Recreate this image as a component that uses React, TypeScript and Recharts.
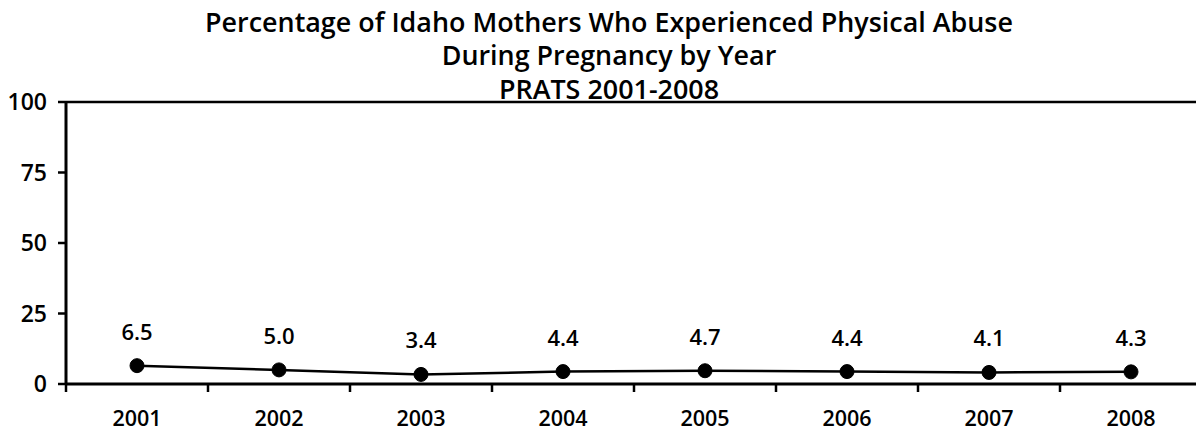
import React from 'react';
import { LineChart, Line, XAxis, YAxis, LabelList, ReferenceLine } from 'recharts';

const years = ['2001', '2002', '2003', '2004', '2005', '2006', '2007', '2008'];
const percentages = [6.5, 5.0, 3.4, 4.4, 4.7, 4.4, 4.1, 4.3];
const yTicks = [0, 25, 50, 75, 100];
const titleLines = [
  'Percentage of Idaho Mothers Who Experienced Physical Abuse',
  'During Pregnancy by Year',
  'PRATS 2001-2008',
];

const data = years.map((year, i) => ({ year, value: percentages[i] }));

const FONT = '"Open Sans", "DejaVu Sans", sans-serif';

const XTick = (props: any) => {
  const { x, y, payload } = props;
  const off = payload && typeof payload.offset === 'number' && payload.offset > 0 ? payload.offset : 71;
  return (
    <g>
      <line x1={x - off} x2={x - off} y1={y} y2={y + 8} stroke="#000" strokeWidth={2.5} />
      <text
        x={x}
        y={y + 27}
        dy="0.71em"
        textAnchor="middle"
        fill="#000"
        fontFamily={FONT}
        fontWeight={600}
        fontSize={21.5}
      >
        {payload.value}
      </text>
    </g>
  );
};

export default function App() {
  return (
    <div
      style={{
        position: 'absolute',
        left: 0,
        top: 0,
        width: 1196,
        height: 432,
        overflow: 'hidden',
        background: '#fff',
      }}
    >
      <LineChart
        width={1212}
        height={440}
        data={data}
        margin={{ top: 102, right: 10, bottom: 8, left: 0 }}
      >
        <ReferenceLine y={100} stroke="#000" strokeWidth={2.5} ifOverflow="extendDomain" />
        <XAxis
          dataKey="year"
          scale="band"
          height={48}
          axisLine={{ stroke: '#000', strokeWidth: 3 }}
          tickLine={false}
          tickSize={0}
          tickMargin={0}
          interval={0}
          tick={<XTick />}
        />
        <YAxis
          width={66}
          domain={[0, 100]}
          ticks={yTicks}
          interval={0}
          axisLine={{ stroke: '#000', strokeWidth: 3 }}
          tickLine={{ stroke: '#000', strokeWidth: 2.5 }}
          tickSize={8}
          tickMargin={11}
          tick={{ fill: '#000', fontFamily: FONT, fontWeight: 600, fontSize: 23 }}
        />
        <Line
          dataKey="value"
          stroke="#000"
          strokeWidth={2.5}
          dot={{ r: 7, fill: '#000', stroke: '#000', strokeWidth: 1 }}
          isAnimationActive={false}
        >
          <LabelList
            dataKey="value"
            position="top"
            offset={26}
            formatter={(v: any) => Number(v).toFixed(1)}
            fill="#000"
            fontFamily={FONT}
            fontWeight={600}
            fontSize={22}
          />
        </Line>
      </LineChart>
      <svg
        width={1196}
        height={110}
        style={{ position: 'absolute', left: 0, top: 0, pointerEvents: 'none' }}
      >
        {titleLines.map((t, i) => (
          <text
            key={i}
            x={609}
            y={31.5 + i * 33.7}
            textAnchor="middle"
            fill="#000"
            fontFamily={FONT}
            fontWeight={600}
            fontSize={26.9}
          >
            {t}
          </text>
        ))}
      </svg>
    </div>
  );
}
